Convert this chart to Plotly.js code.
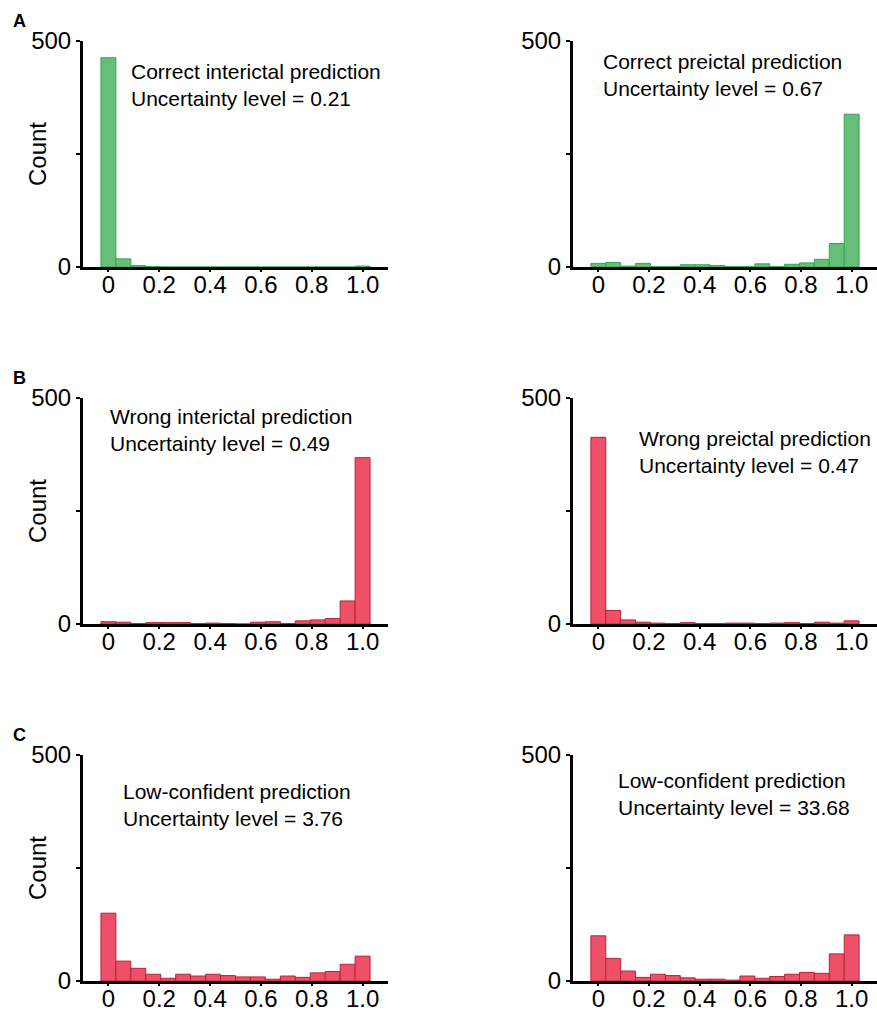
<!DOCTYPE html>
<html>
<head>
<meta charset="utf-8">
<script src="https://cdn.plot.ly/plotly-3.0.1.min.js"></script>
<style>html,body{margin:0;padding:0;background:#fff;}#chart{width:877px;height:1011px;}</style>
</head>
<body>
<div id="chart"></div>
<script>
// Bin centres (18 bins spanning 0..1)
var binCenters = [0, 0.0588, 0.1176, 0.1765, 0.2353, 0.2941, 0.3529, 0.4118, 0.4706,
                  0.5294, 0.5882, 0.6471, 0.7059, 0.7647, 0.8235, 0.8824, 0.9412, 1.0];
var binWidth = 0.0588;

// Counts per bin
var correctInterictal = [463, 18, 3, 1, 0, 0, 0, 0, 0, 0, 0, 0, 0, 0, 0, 0, 0, 2];
var correctPreictal   = [8, 10, 2, 8, 1, 1, 5, 5, 3, 1, 1, 7, 1, 6, 9, 17, 52, 338];
var wrongInterictal   = [5, 4, 1, 3, 3, 3, 1, 2, 1, 0, 4, 5, 1, 7, 9, 12, 51, 368];
var wrongPreictal     = [413, 30, 9, 4, 2, 1, 3, 1, 1, 2, 2, 1, 2, 3, 1, 4, 2, 7];
var lowConfA          = [150, 44, 28, 15, 6, 15, 11, 15, 12, 9, 9, 4, 11, 8, 18, 21, 37, 55];
var lowConfB          = [100, 50, 22, 8, 15, 12, 7, 4, 4, 2, 11, 6, 10, 15, 19, 17, 60, 102];

var panelTitles = [
  "Correct interictal prediction<br>Uncertainty level = 0.21",
  "Correct preictal prediction<br>Uncertainty level = 0.67",
  "Wrong interictal prediction<br>Uncertainty level = 0.49",
  "Wrong preictal prediction<br>Uncertainty level = 0.47",
  "Low-confident prediction<br>Uncertainty level = 3.76",
  "Low-confident prediction<br>Uncertainty level = 33.68"
];
var panelLetters = ["A", "B", "C"];
var xTickVals = [0, 0.2, 0.4, 0.6, 0.8, 1.0];
var xTickText = ["0", "0.2", "0.4", "0.6", "0.8", "1.0"];
var yTickVals = [0, 250, 500];
var yTickText = ["0", "", "500"];

var green = {fill: "#66BF79", line: "#35A356"};
var red = {fill: "#EE5069", line: "#B4243A"};

var series = [correctInterictal, correctPreictal, wrongInterictal, wrongPreictal, lowConfA, lowConfB];
var colors = [green, green, red, red, red, red];

var W = 877, H = 1011;
var colDomains = [[83 / W, 388 / W], [573 / W, 1]];
var rowPx = [[41, 267], [398, 624], [755, 981]];

var traces = [];
var layout = {
  width: W, height: H,
  margin: {l: 0, r: 0, t: 0, b: 0},
  paper_bgcolor: "#fff", plot_bgcolor: "#fff",
  showlegend: false,
  font: {family: "Liberation Sans, Arial, sans-serif", color: "#000"},
  annotations: []
};

var annPos = [[129, 58], [601, 48], [108, 403], [637, 425], [121, 778], [616, 767]];

for (var i = 0; i < 6; i++) {
  var row = Math.floor(i / 2), col = i % 2;
  var n = i + 1;
  var xa = n === 1 ? "x" : "x" + n;
  var ya = n === 1 ? "y" : "y" + n;
  traces.push({
    type: "bar",
    x: binCenters,
    y: series[i],
    width: binWidth,
    xaxis: xa, yaxis: ya,
    marker: {color: colors[i].fill, line: {color: colors[i].line, width: 1}},
    hoverinfo: "x+y"
  });
  var xKey = n === 1 ? "xaxis" : "xaxis" + n;
  var yKey = n === 1 ? "yaxis" : "yaxis" + n;
  layout[xKey] = {
    domain: colDomains[col],
    anchor: ya,
    range: [-0.1, 1.1],
    tickvals: xTickVals, ticktext: xTickText,
    ticks: "outside", ticklen: 2, tickwidth: 2, tickcolor: "#000",
    ticklabelstandoff: -8,
    showline: true, linecolor: "#000", linewidth: 3,
    showgrid: false, zeroline: false,
    tickfont: {size: 24, color: "#000"},
    fixedrange: true
  };
  layout[yKey] = {
    domain: [1 - rowPx[row][1] / H, 1 - rowPx[row][0] / H],
    anchor: xa,
    range: [0, 500],
    tickvals: yTickVals, ticktext: yTickText,
    ticks: "outside", ticklen: 4, tickwidth: 2, tickcolor: "#000",
    showline: true, linecolor: "#000", linewidth: 3,
    showgrid: false, zeroline: false,
    tickfont: {size: 24, color: "#000"},
    fixedrange: true
  };
  layout.annotations.push({
    xref: "paper", yref: "paper",
    x: annPos[i][0] / W, y: 1 - annPos[i][1] / H,
    xanchor: "left", yanchor: "top", align: "left",
    text: panelTitles[i], showarrow: false,
    font: {size: 21, color: "#000"}
  });
  if (col === 0) {
    layout.annotations.push({
      xref: "paper", yref: "paper",
      x: 37 / W, y: 1 - (rowPx[row][0] + rowPx[row][1]) / 2 / H,
      xanchor: "center", yanchor: "middle",
      text: "Count", textangle: -90, showarrow: false,
      font: {size: 24, color: "#000"}
    });
    layout.annotations.push({
      xref: "paper", yref: "paper",
      x: 11 / W, y: 1 - (rowPx[row][0] - 32) / H,
      xanchor: "left", yanchor: "top",
      text: "<b>" + panelLetters[row] + "</b>", showarrow: false,
      font: {size: 18, color: "#000"}
    });
  }
}

Plotly.newPlot("chart", traces, layout, {displayModeBar: false, staticPlot: false});
</script>
</body>
</html>
